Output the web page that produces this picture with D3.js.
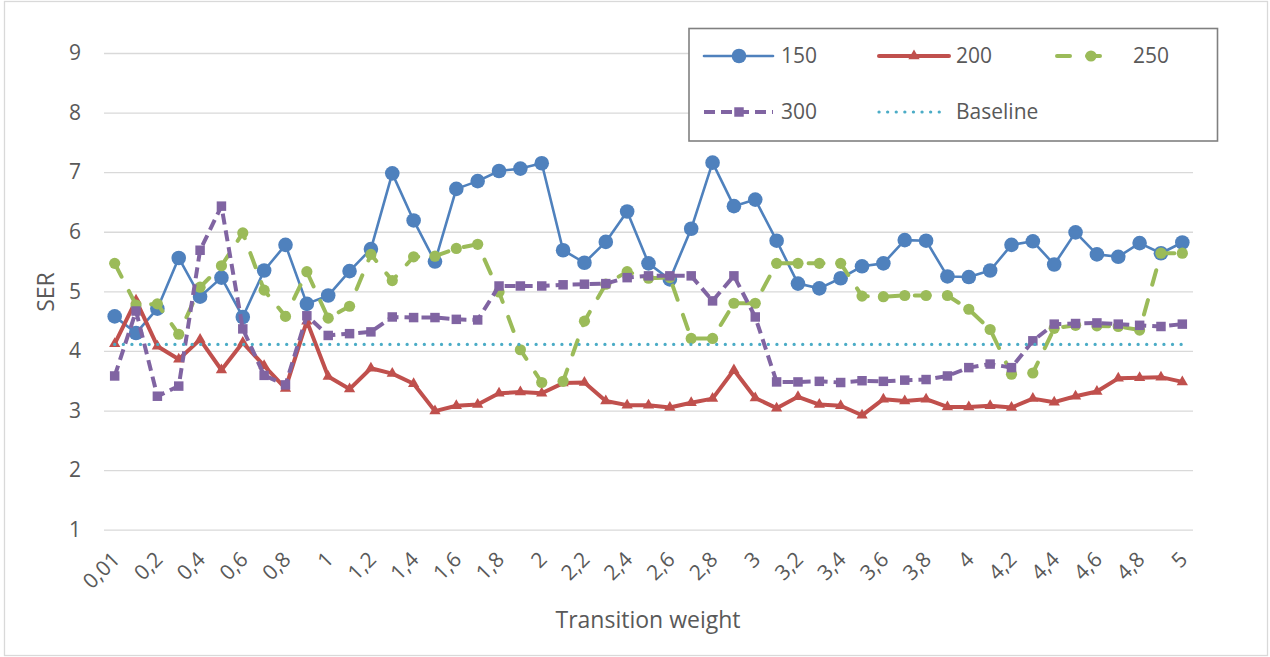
<!DOCTYPE html>
<html><head><meta charset="utf-8">
<script src="https://cdn.jsdelivr.net/npm/d3@7"></script>
<style>body{margin:0;background:#fff}svg{display:block}</style>
</head><body><svg id="c" width="1270" height="657"></svg>
<script>
const categories = ["0,01","0,1","0,2","0,3","0,4","0,5","0,6","0,7","0,8","0,9",
  "1","1,1","1,2","1,3","1,4","1,5","1,6","1,7","1,8","1,9",
  "2","2,1","2,2","2,3","2,4","2,5","2,6","2,7","2,8","2,9",
  "3","3,1","3,2","3,3","3,4","3,5","3,6","3,7","3,8","3,9",
  "4","4,1","4,2","4,3","4,4","4,5","4,6","4,7","4,8","4,9","5"];
const xTickLabels = ["0,01","0,2","0,4","0,6","0,8","1","1,2","1,4","1,6","1,8","2","2,2","2,4","2,6","2,8","3","3,2","3,4","3,6","3,8","4","4,2","4,4","4,6","4,8","5"];
const yTicks = [1,2,3,4,5,6,7,8,9];
const s150 = [4.58,4.30,4.71,5.56,4.91,5.23,4.57,5.35,5.78,4.79,
  4.93,5.34,5.71,6.98,6.19,5.50,6.72,6.85,7.02,7.06,
  7.15,5.69,5.48,5.83,6.34,5.47,5.20,6.05,7.16,6.43,
  6.54,5.85,5.13,5.05,5.22,5.42,5.47,5.86,5.85,5.25,
  5.24,5.35,5.78,5.84,5.45,5.99,5.62,5.58,5.81,5.64,5.82];
const s200 = [4.12,4.85,4.08,3.86,4.19,3.68,4.14,3.75,3.37,4.50,
  3.57,3.36,3.71,3.62,3.45,2.99,3.08,3.10,3.29,3.31,
  3.29,3.46,3.47,3.16,3.09,3.09,3.05,3.13,3.20,3.68,
  3.21,3.04,3.23,3.10,3.08,2.92,3.19,3.16,3.19,3.06,
  3.06,3.08,3.05,3.20,3.14,3.24,3.32,3.54,3.55,3.56,3.48];
const s250 = [5.47,4.77,4.79,4.28,5.07,5.43,5.98,5.02,4.58,5.33,
  4.55,4.75,5.62,5.18,5.58,5.59,5.72,5.79,4.99,4.02,
  3.47,3.49,4.50,5.12,5.33,5.22,5.23,4.21,4.21,4.80,
  4.80,5.47,5.47,5.47,5.47,4.92,4.91,4.93,4.93,4.93,
  4.70,4.36,3.61,3.63,4.38,4.43,4.42,4.41,4.35,5.64,5.64];
const s300 = [3.58,4.67,3.24,3.41,5.69,6.43,4.37,3.59,3.43,4.59,
  4.26,4.29,4.32,4.57,4.56,4.56,4.53,4.52,5.09,5.09,
  5.09,5.11,5.12,5.13,5.23,5.26,5.26,5.26,4.84,5.26,
  4.57,3.48,3.48,3.49,3.47,3.50,3.49,3.51,3.52,3.58,
  3.72,3.78,3.72,4.17,4.45,4.46,4.47,4.45,4.43,4.41,4.45];
const baselineValue = 4.11;
const baseline = categories.map(() => baselineValue);

const seriesNames = ["150","200","250","300","Baseline"];
const seriesData = [s150, s200, s250, s300, baseline];

const styles = {
  "150": {color:"#4F81BD", width:2.6, dash:null, cap:"round", marker:"circle", msize:7.3},
  "200": {color:"#C0504D", width:4, dash:null, cap:"round", marker:"triangle", msize:55},
  "250": {color:"#9BBB59", width:4, dash:"15,16", cap:"round", marker:"circle", msize:5.6},
  "300": {color:"#8064A2", width:4, dash:"11,6", cap:"butt", marker:"square", msize:90},
  "Baseline": {color:"#4BACC6", width:3.2, dash:"0.1,8.5", cap:"round", marker:null}
};

const FONT = "'Open Sans', sans-serif";
const TXT = "#595959";
const svg = d3.select("#c");
const plot = {left:104, right:1193, top:53, bottom:529.7};

svg.append("rect").attr("x",4.5).attr("y",1.5).attr("width",1263).attr("height",654)
  .attr("fill","#fff").attr("stroke","#d9d9d9").attr("stroke-width",1.3);

const x = d3.scalePoint().domain(categories).range([plot.left, plot.right]).padding(0.5);
const y = d3.scaleLinear().domain([1,9]).range([plot.bottom, plot.top]);

// gridlines
const gy = svg.append("g").attr("transform",`translate(${plot.left},0)`)
  .call(d3.axisLeft(y).tickValues(yTicks).tickSize(-(plot.right-plot.left)).tickFormat(""));
gy.select(".domain").remove();
gy.selectAll(".tick line").attr("stroke","#d9d9d9").attr("stroke-width",1.3);

// y labels
const yl = svg.append("g").attr("transform",`translate(81,0)`)
  .call(d3.axisLeft(y).tickValues(yTicks).tickSize(0).tickPadding(0).tickFormat(d3.format("d")));
yl.select(".domain").remove();
yl.selectAll("text").attr("font-family",FONT).attr("font-size",21).attr("fill",TXT).attr("x",0);

// x labels
const xl = svg.append("g").attr("transform",`translate(0,${plot.bottom})`)
  .call(d3.axisBottom(x).tickValues(xTickLabels).tickSize(0));
xl.select(".domain").remove();
xl.selectAll("text").attr("font-family",FONT).attr("font-size",21).attr("fill",TXT)
  .attr("text-anchor","end").attr("dy",null).attr("y",null)
  .attr("transform","translate(6,31) rotate(-45)");

// titles
svg.append("text").attr("x",648).attr("y",628).attr("text-anchor","middle")
  .attr("font-family",FONT).attr("font-size",23).attr("fill",TXT).text("Transition weight");
svg.append("text").attr("transform","translate(54,292) rotate(-90)").attr("text-anchor","middle")
  .attr("font-family",FONT).attr("font-size",23).attr("fill",TXT).text("SER");

function drawMarker(g, st, cx, cy) {
  if (st.marker === "circle") {
    g.append("circle").attr("cx",cx).attr("cy",cy).attr("r",st.msize).attr("fill",st.color);
  } else if (st.marker === "triangle") {
    g.append("path").attr("d",d3.symbol(d3.symbolTriangle, st.msize)())
      .attr("transform",`translate(${cx},${cy})`).attr("fill",st.color);
  } else if (st.marker === "square") {
    g.append("path").attr("d",d3.symbol(d3.symbolSquare, st.msize)())
      .attr("transform",`translate(${cx},${cy})`).attr("fill",st.color);
  }
}

const line = d3.line().x((d,i)=>x(categories[i])).y(d=>y(d));
seriesNames.forEach((name, k) => {
  const st = styles[name];
  const g = svg.append("g");
  const p = g.append("path").datum(seriesData[k]).attr("d",line).attr("fill","none")
    .attr("stroke",st.color).attr("stroke-width",st.width)
    .attr("stroke-linejoin","round").attr("stroke-linecap",st.cap);
  if (st.dash) p.attr("stroke-dasharray",st.dash);
  if (st.marker) seriesData[k].forEach((v,i)=>drawMarker(g, st, x(categories[i]), y(v)));
});

// legend
const lg = svg.append("g");
lg.append("rect").attr("x",689).attr("y",28.5).attr("width",528.5).attr("height",112.5)
  .attr("fill","#fff").attr("stroke","#808080").attr("stroke-width",1.6);
const legendPos = [[704,56],[879,56],[1057,56],[704,112],[879,112]];
const legendLen = [69, 70, 50, 69, 66];
seriesNames.forEach((name,k)=>{
  const st = styles[name];
  const [lx,ly] = legendPos[k];
  const len = legendLen[k];
  const l = lg.append("line").attr("x1",lx).attr("x2",lx+len).attr("y1",ly).attr("y2",ly)
    .attr("stroke",st.color).attr("stroke-width",st.width).attr("stroke-linecap",st.cap);
  if (name === "250") l.attr("stroke-dasharray","13,17");
  else if (st.dash) l.attr("stroke-dasharray",st.dash);
  if (st.marker) drawMarker(lg, st, name==="250" ? lx+34 : lx+35, ly);
  lg.append("text").attr("x", name==="250" ? 1133 : lx+77).attr("y",ly).attr("dy","0.35em")
    .attr("font-family",FONT).attr("font-size",21).attr("fill",TXT).text(name);
});
</script></body></html>
